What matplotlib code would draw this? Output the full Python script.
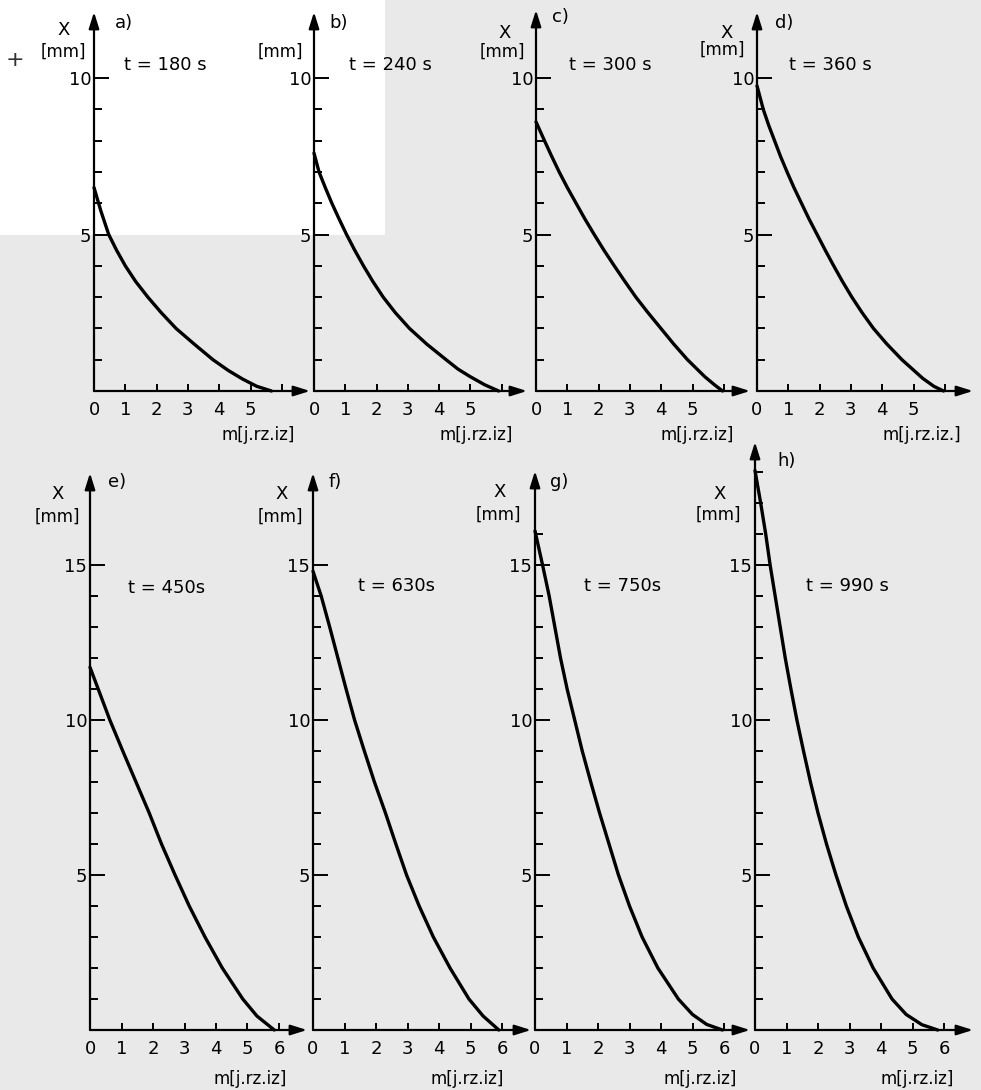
import matplotlib
matplotlib.use("Agg")
import matplotlib.pyplot as plt
from matplotlib.patches import Rectangle

W, H = 981, 1090

# ---- data: m [j.rz.iz] vs X [mm] ----
m_a = [0, 0.22, 0.47, 0.72, 1.0, 1.33, 1.72, 2.15, 2.62, 3.2, 3.8, 4.3, 4.75, 5.2, 5.67]
x_a = [6.5, 5.75, 5.0, 4.5, 4.0, 3.5, 3.0, 2.5, 2.0, 1.5, 1.0, 0.65, 0.38, 0.15, 0.0]

m_b = [0, 0.16, 0.36, 0.57, 0.8, 1.04, 1.3, 1.58, 1.88, 2.21, 2.6, 3.05, 3.6, 4.22, 4.6, 4.97, 5.45, 5.9]
x_b = [7.6, 7.0, 6.5, 6.0, 5.5, 5.0, 4.5, 4.0, 3.5, 3.0, 2.5, 2.0, 1.5, 1.0, 0.7, 0.47, 0.2, 0.0]

m_c = [0, 0.27, 0.5, 0.74, 1.0, 1.28, 1.56, 1.86, 2.17, 2.5, 2.84, 3.19, 3.58, 3.99, 4.4, 4.84, 5.4, 5.7, 5.96]
x_c = [8.6, 8.0, 7.5, 7.0, 6.5, 6.0, 5.5, 5.0, 4.5, 4.0, 3.5, 3.0, 2.5, 2.0, 1.5, 1.0, 0.45, 0.2, 0.0]

m_d = [0, 0.2, 0.37, 0.56, 0.75, 0.96, 1.18, 1.42, 1.66, 1.92, 2.18, 2.45, 2.73, 3.03, 3.36,
       3.72, 4.15, 4.63, 5.3, 5.65, 5.96]
x_d = [9.75, 9.0, 8.5, 8.0, 7.5, 7.0, 6.5, 6.0, 5.5, 5.0, 4.5, 4.0, 3.5, 3.0, 2.5,
       2.0, 1.5, 1.0, 0.4, 0.15, 0.0]

m_e = [0, 0.26, 0.63, 1.04, 1.46, 1.88, 2.27, 2.7, 3.15, 3.65, 4.2, 4.85, 5.3, 5.85]
x_e = [11.7, 11, 10, 9, 8, 7, 6, 5, 4, 3, 2, 1, 0.45, 0]

m_f = [0, 0.26, 0.53, 0.79, 1.05, 1.32, 1.63, 1.95, 2.3, 2.63, 2.97, 3.37, 3.82, 4.35, 4.95, 5.4, 5.9]
x_f = [14.8, 14, 13, 12, 11, 10, 9, 8, 7, 6, 5, 4, 3, 2, 1, 0.45, 0]

m_g = [0, 0.24, 0.45, 0.63, 0.81, 1.02, 1.26, 1.5, 1.77, 2.05, 2.35, 2.65, 3.0, 3.4, 3.9,
       4.55, 5.0, 5.45, 5.95]
x_g = [16.1, 15, 14, 13, 12, 11, 10, 9, 8, 7, 6, 5, 4, 3, 2, 1, 0.5, 0.18, 0]

m_h = [0, 0.18, 0.34, 0.48, 0.64, 0.8, 0.96, 1.14, 1.33, 1.54, 1.76, 2.0, 2.27, 2.57, 2.9,
       3.28, 3.75, 4.35, 4.8, 5.3, 5.8]
x_h = [18.05, 17, 16, 15, 14, 13, 12, 11, 10, 9, 8, 7, 6, 5, 4,
       3, 2, 1, 0.5, 0.17, 0]

t_labels = ["t = 180 s", "t = 240 s", "t = 300 s", "t = 360 s",
            "t = 450s", "t = 630s", "t = 750s", "t = 990 s"]
letters = ["a)", "b)", "c)", "d)", "e)", "f)", "g)", "h)"]
top_xticklabels = ["0", "1", "2", "3", "4", "5", ""]
bot_xticklabels = ["0", "1", "2", "3", "4", "5", "6"]

plt.rcParams["font.family"] = ["DejaVu Sans"]

fig = plt.figure(figsize=(W / 100, H / 100), dpi=100)
fig.patch.set_facecolor("#e9e9e9")
# white paper region of the scan (top left)
fig.patches.append(Rectangle((0, 1 - 235 / H), 385 / W, 235 / H,
                             transform=fig.transFigure, facecolor="white",
                             edgecolor="none", zorder=-10))


def px(x, y):
    return x / W, 1 - y / H


def panel(left, right, base, top, sx, sy, m, x, xticklabels, majors, minors):
    ax = fig.add_axes([left / W, (H - base) / H, (right - left) / W, (base - top) / H])
    ax.set_xlim(0, (right - left) / sx)
    ax.set_ylim(0, (base - top) / sy)
    ax.patch.set_alpha(0)
    for s in ax.spines.values():
        s.set_visible(False)
    arrow = dict(arrowstyle="-|>,head_length=0.7,head_width=0.22", color="black",
                 lw=1.6, shrinkA=0, shrinkB=0, mutation_scale=14)
    ax.annotate("", xy=(0, 1), xytext=(0, 0), xycoords="axes fraction",
                arrowprops=arrow, annotation_clip=False)
    ax.annotate("", xy=(1, 0), xytext=(0, 0), xycoords="axes fraction",
                arrowprops=arrow, annotation_clip=False)
    ax.plot(m, x, color="black", lw=2.4, solid_capstyle="round",
            solid_joinstyle="round", clip_on=False)

    ax.set_xticks(range(len(xticklabels)))
    ax.set_xticklabels(xticklabels)
    ax.set_yticks(majors)
    ax.set_yticklabels([str(v) for v in majors])
    ax.set_yticks(minors, minor=True)
    ax.tick_params(axis="x", direction="in", length=5, width=1.4, pad=7, labelsize=13)
    ax.tick_params(axis="y", which="major", direction="in", length=11, width=1.4,
                   pad=2, labelsize=13)
    ax.tick_params(axis="y", which="minor", direction="in", length=6, width=1.4)
    return ax


# top row
top_specs = [
    (94, 310, 12, m_a, x_a),
    (314, 527, 12, m_b, x_b),
    (536, 750, 10, m_c, x_c),
    (757, 973, 12, m_d, x_d),
]
top_minor = [v for v in range(1, 10) if v != 5]
for left, right, top, m, x in top_specs:
    panel(left, right, 391, top, 31.3, 31.3, m, x, top_xticklabels, [5, 10], top_minor)

# bottom row
bot_specs = [
    (90, 307, 473, m_e, x_e, 14),
    (313, 531, 473, m_f, x_f, 14),
    (535, 750, 471, m_g, x_g, 16),
    (755, 973, 442, m_h, x_h, 18),
]
for left, right, top, m, x, nmax in bot_specs:
    minors = [v for v in range(1, nmax + 1) if v % 5 != 0]
    panel(left, right, 1030, top, 31.5, 31.0, m, x, bot_xticklabels, [5, 10, 15], minors)

# axis titles and annotations
fs = 13
for xx, yy in [(64, 30), (505, 33), (727, 33), (58, 494), (282, 494), (500, 492), (720, 494)]:
    fig.text(*px(xx, yy), "X", fontsize=fs, ha="center", va="center")
for xx, yy in [(63, 52), (280, 52), (502, 52), (722, 50), (57, 517), (280, 517), (498, 515), (718, 515)]:
    fig.text(*px(xx, yy), "[mm]", fontsize=fs - 1, ha="center", va="center")

letter_pos = [(124, 23), (339, 23), (560, 17), (784, 23), (117, 482), (335, 482), (559, 482), (787, 461)]
t_pos = [(165, 65), (390, 65), (610, 65), (830, 65), (167, 588), (397, 586), (623, 586), (847, 586)]
for lab, (xx, yy) in zip(letters, letter_pos):
    fig.text(*px(xx, yy), lab, fontsize=fs, ha="center", va="center")
for lab, (xx, yy) in zip(t_labels, t_pos):
    fig.text(*px(xx, yy), lab, fontsize=fs, ha="center", va="center")

mlab_pos = [(258, 435), (476, 435), (697, 435), (922, 435), (250, 1079), (467, 1079), (700, 1079), (917, 1079)]
mlabs = ["m[j.rz.iz]"] * 3 + ["m[j.rz.iz.]"] + ["m[j.rz.iz]"] * 4
for lab, (xx, yy) in zip(mlabs, mlab_pos):
    fig.text(*px(xx, yy), lab, fontsize=fs - 1, ha="center", va="center")

fig.text(*px(15, 60), "+", fontsize=16, ha="center", va="center", color="#333333")

fig.savefig("out.png", dpi=100, facecolor=fig.get_facecolor())
